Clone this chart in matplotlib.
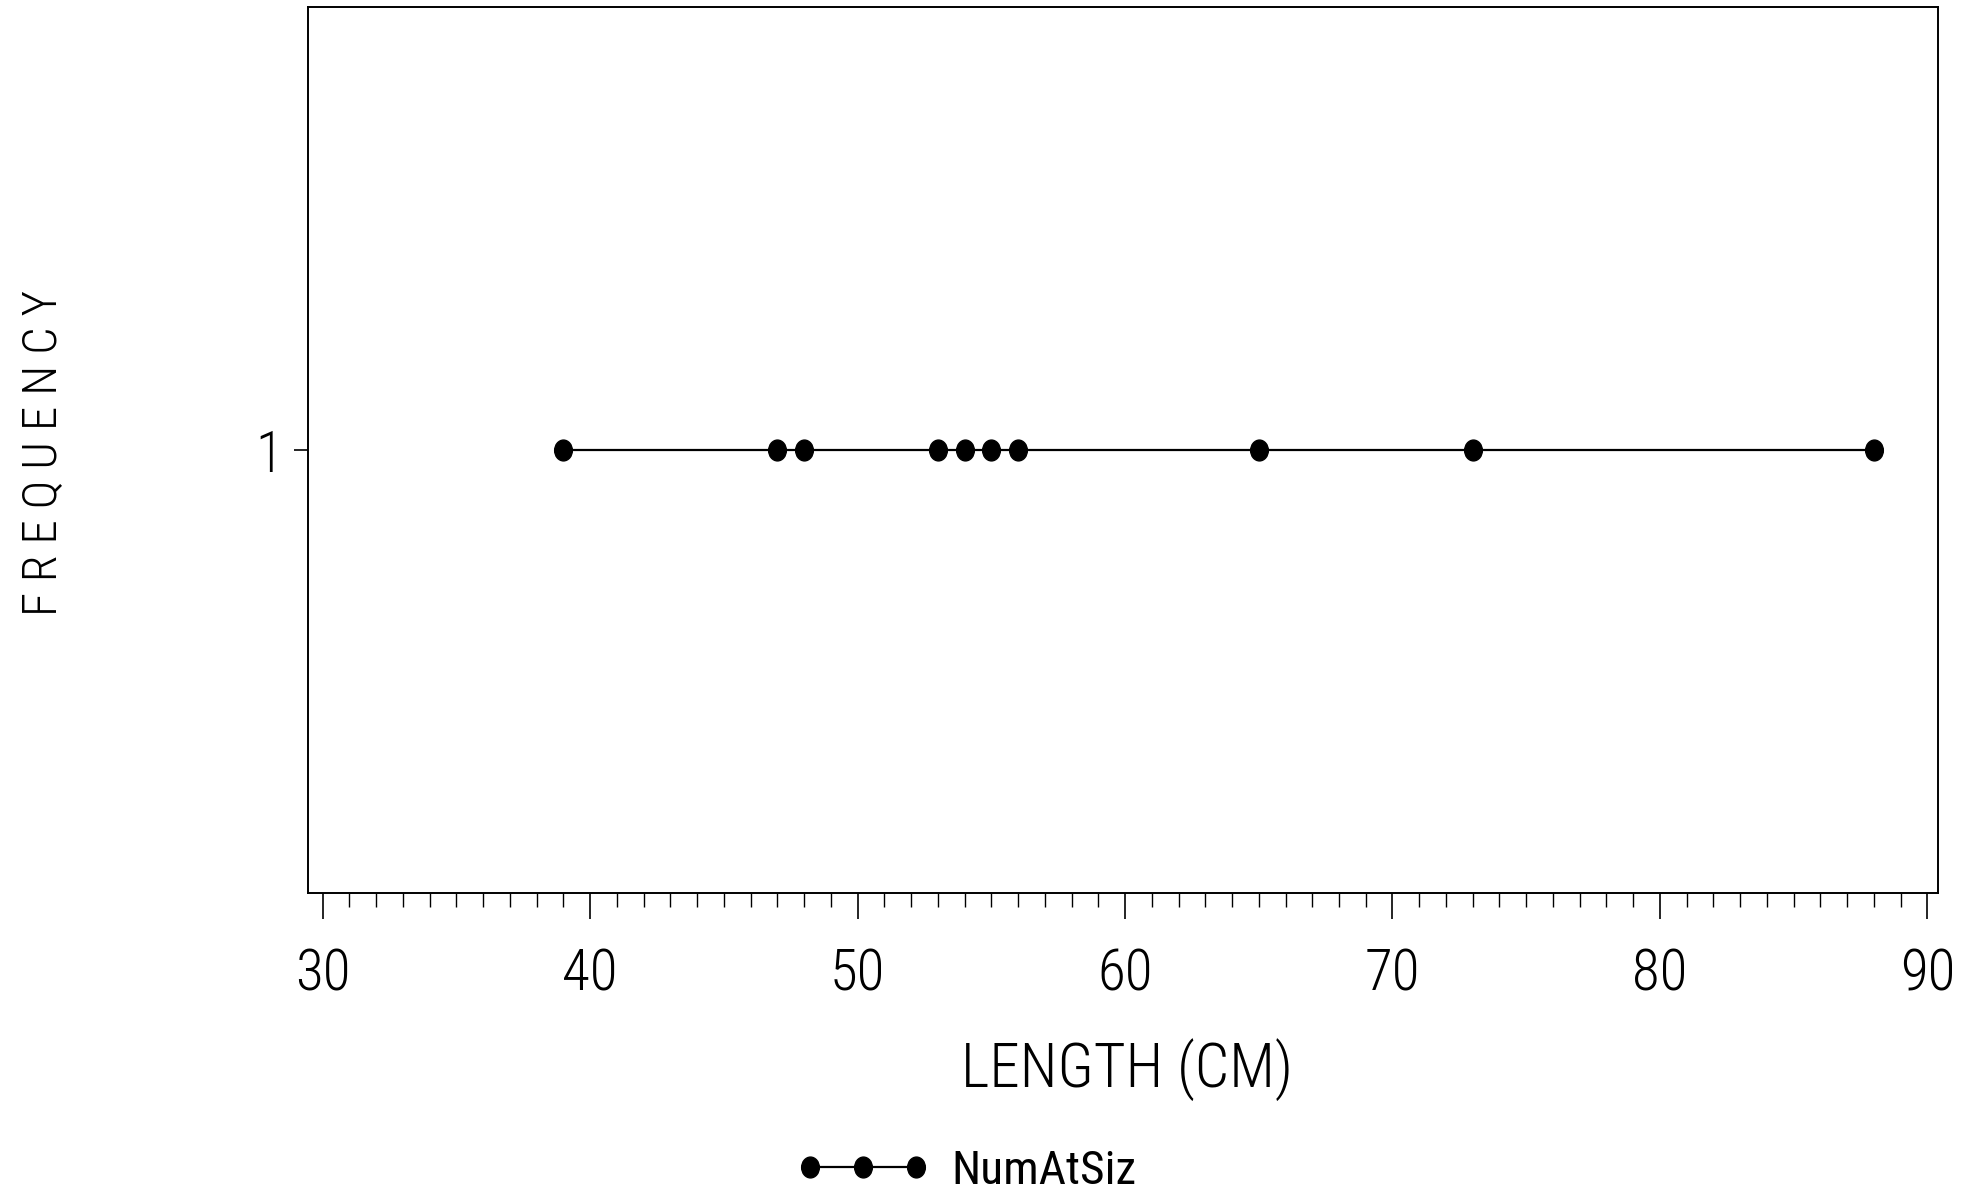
import os
import matplotlib
matplotlib.use("Agg")
import matplotlib.pyplot as plt
from matplotlib import font_manager as fm
from matplotlib.path import Path
from matplotlib.transforms import Affine2D
from matplotlib.ticker import MultipleLocator, FixedLocator

# lengths of the measured fish, one count each
lengths = [39, 47, 48, 53, 54, 55, 56, 65, 73, 88]
counts = [1, 1, 1, 1, 1, 1, 1, 1, 1, 1]
x_major = [30, 40, 50, 60, 70, 80, 90]
y_ticks = [1]
series_name = "NumAtSiz"


def find_font(candidates):
    # first installed file whose name matches one of the candidates
    for key in candidates:
        for f in fm.fontManager.ttflist:
            if key.lower() in os.path.basename(f.fname).lower():
                return fm.FontProperties(fname=f.fname)
    return fm.FontProperties(family="DejaVu Sans", weight="light")


thin = find_font(["RobotoCondensed-Light", "NotoSans-ExtraCondensedLight",
                  "OpenSans_Condensed-Light", "OpenSansCondensed-Light",
                  "NotoSans-CondensedLight", "DejaVuSansCondensed.ttf",
                  "LiberationSansNarrow-Regular"])
narrow = find_font(["LiberationSansNarrow-Regular", "RobotoCondensed-Regular",
                    "NotoSans-Condensed.ttf", "DejaVuSansCondensed.ttf"])

# slightly upright oval dot
dot = Path.unit_circle().transformed(Affine2D().scale(0.85, 1.0))

fig = plt.figure(figsize=(19.68, 11.96), dpi=100)
ax = fig.add_axes([0.1565, 0.2533, 0.8283, 0.7408])

line, = ax.plot(lengths, counts, color="black", linewidth=1.6,
                marker=dot, markersize=15, markerfacecolor="black",
                markeredgecolor="black")

ax.set_xlim(29.45, 90.4)
ax.set_ylim(0, 2)

ax.xaxis.set_major_locator(FixedLocator(x_major))
ax.xaxis.set_minor_locator(MultipleLocator(1))
ax.yaxis.set_major_locator(FixedLocator(y_ticks))
ax.set_xticklabels([str(v) for v in x_major])
ax.set_yticklabels([str(v) for v in y_ticks])

ax.tick_params(axis="x", which="major", direction="out", length=19, width=1.2,
               pad=20)
ax.tick_params(axis="x", which="minor", direction="out", length=10, width=1.0)
ax.tick_params(axis="y", which="major", direction="out", length=10, width=1.2,
               pad=8)
for lab in ax.get_xticklabels() + ax.get_yticklabels():
    lab.set_fontproperties(thin)
    lab.set_fontsize(41)

for sp in ax.spines.values():
    sp.set_linewidth(1.4)
    sp.set_color("black")

fig.text(1127 / 1968, 1 - 1070 / 1196, "LENGTH (CM)",
         fontproperties=thin, fontsize=44, ha="center", va="center")
fig.text(44 / 1968, 1 - 453 / 1196, "F R E Q U E N C Y",
         fontproperties=thin, fontsize=35, ha="center", va="center",
         rotation=90)

leg_prop = narrow.copy()
leg_prop.set_size(34)
fig.legend([line], [series_name], loc="center left",
           bbox_to_anchor=(796 / 1968, 1 - 1171 / 1196), frameon=False,
           numpoints=3, handlelength=2.85, handletextpad=0.45, prop=leg_prop,
           borderpad=0, borderaxespad=0)

fig.savefig("out.png", dpi=100, facecolor="white")
